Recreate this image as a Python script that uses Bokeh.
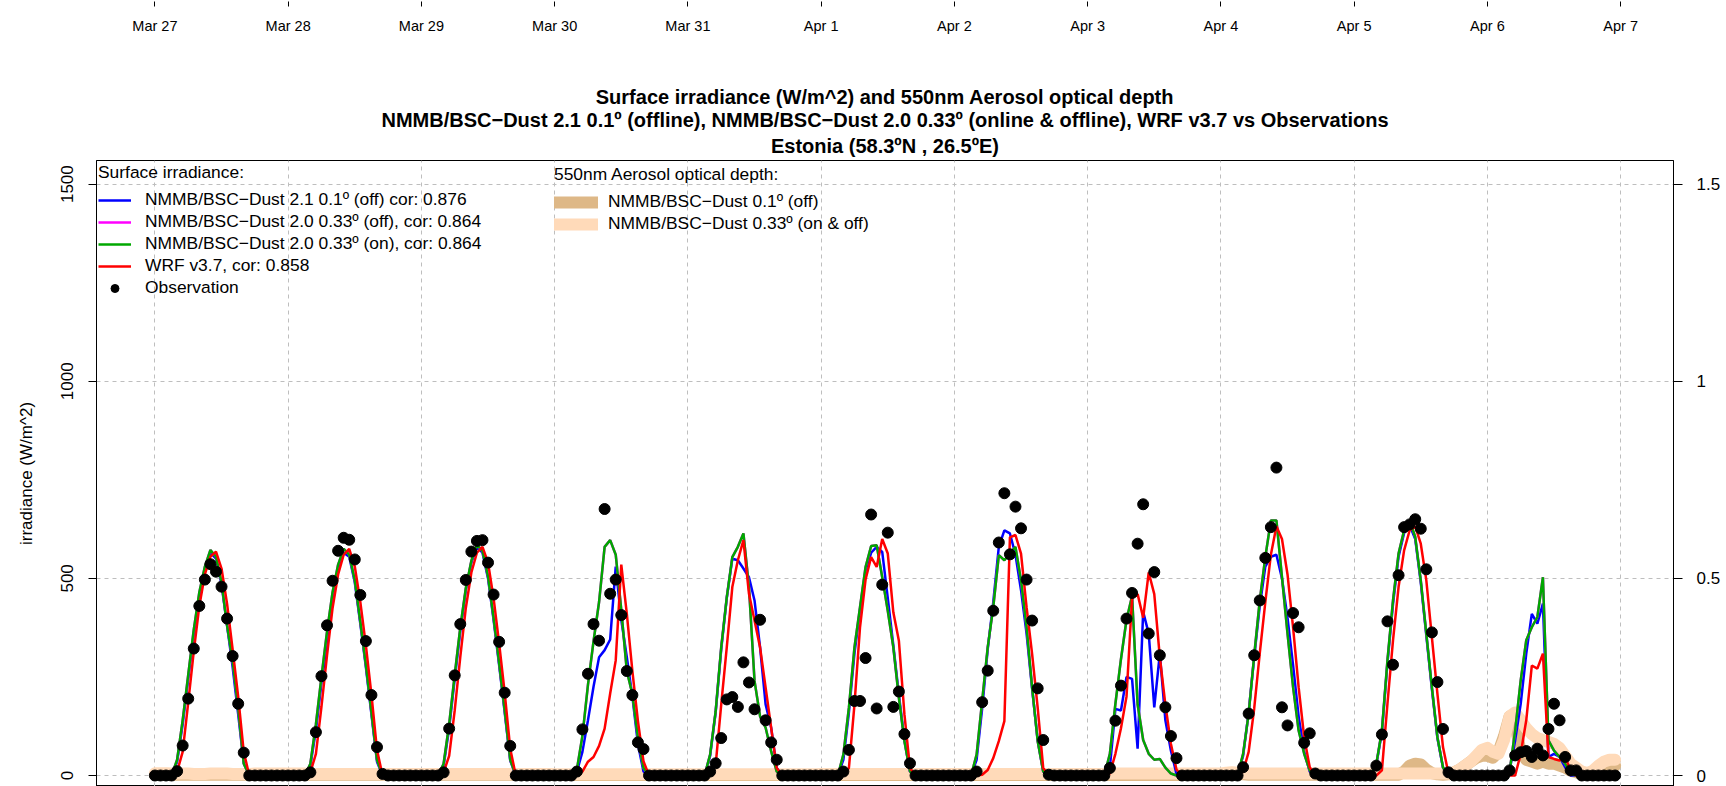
import numpy as np
import pandas as pd
from bokeh.plotting import figure
from bokeh.models import (ColumnDataSource, Range1d, LinearAxis, FixedTicker,
                          Legend, LegendItem, Title)
from bokeh.layouts import column
from bokeh.embed import file_html
from bokeh.resources import INLINE

FONT = "Liberation Sans"

# ---------------- data (hourly, UTC, starting 2016-03-27 00:00) ----------------
START = "2016-03-27 00:00"
DAY_DATES = ["2016-03-27", "2016-03-28", "2016-03-29", "2016-03-30", "2016-03-31", "2016-04-01",
             "2016-04-02", "2016-04-03", "2016-04-04", "2016-04-05", "2016-04-06", "2016-04-07"]
DAY_LABELS = ["Mar 27", "Mar 28", "Mar 29", "Mar 30", "Mar 31", "Apr 1",
              "Apr 2", "Apr 3", "Apr 4", "Apr 5", "Apr 6", "Apr 7"]

OBS = [
    0, 0, 0, 0, 11, 76, 195, 322, 430, 497, 536, 517, 479, 398, 303, 182, 58, 0, 0, 0, 0, 0, 0, 0,
    0, 0, 0, 0, 8, 110, 252, 381, 494, 570, 603, 598, 548, 458, 341, 204, 72, 4, 0, 0, 0, 0, 0, 0,
    0, 0, 0, 0, 8, 119, 254, 384, 496, 568, 595, 597, 540, 459, 339, 210, 75, 0, 0, 0, 0, 0, 0, 0,
    0, 0, 0, 0, 10, 117, 258, 384, 342, 676, 461, 497, 407, 265, 204, 84, 67, 0, 0, 0, 0, 0, 0, 0,
    0, 0, 0, 0, 10, 31, 95, 193, 199, 174, 287, 236, 168, 395, 140, 84, 40, 0, 0, 0, 0, 0, 0, 0,
    0, 0, 0, 0, 10, 65, 189, 189, 298, 662, 170, 484, 616, 174, 213, 105, 31, 0, 0, 0, 0, 0, 0, 0,
    0, 0, 0, 0, 10, 186, 266, 418, 591, 716, 561, 682, 627, 497, 393, 221, 90, 2, 0, 0, 0, 0, 0, 0,
    0, 0, 0, 0, 19, 139, 228, 398, 463, 588, 688, 360, 516, 305, 173, 100, 44, 0, 0, 0, 0, 0, 0, 0,
    0, 0, 0, 0, 21, 157, 305, 444, 552, 630, 781, 173, 127, 412, 376, 83, 107, 5, 0, 0, 0, 0, 0, 0,
    0, 0, 0, 0, 25, 104, 391, 281, 508, 630, 637, 650, 626, 523, 363, 237, 118, 8, 0, 0, 0, 0, 0, 0,
    0, 0, 0, 0, 13, 51, 59, 62, 47, 68, 51, 118, 182, 140, 47, 13, 13, 0, 0, 0, 0, 0, 0, 0,
]

NMMB21_01_OFF = [
    0, 0, 0, 0, 35, 130, 245, 360, 455, 525, 565, 550, 485, 380, 275, 155, 32, 0, 0, 0, 0, 0, 0, 0,
    0, 0, 0, 0, 25, 115, 235, 330, 440, 520, 565, 555, 490, 385, 275, 155, 35, 0, 0, 0, 0, 0, 0, 0,
    0, 0, 0, 0, 25, 120, 245, 365, 470, 540, 580, 565, 500, 395, 280, 160, 38, 0, 0, 0, 0, 0, 0, 0,
    0, 0, 0, 0, 10, 60, 140, 225, 300, 318, 345, 530, 395, 300, 200, 80, 10, 0, 0, 0, 0, 0, 0, 0,
    0, 0, 0, 0, 50, 160, 320, 450, 550, 546, 525, 503, 444, 325, 180, 121, 19, 0, 0, 0, 0, 0, 0, 0,
    0, 0, 0, 0, 40, 160, 310, 420, 520, 565, 580, 567, 450, 330, 205, 90, 10, 0, 0, 0, 0, 0, 0, 0,
    0, 0, 0, 0, 40, 170, 320, 440, 580, 622, 614, 560, 470, 360, 220, 90, 10, 0, 0, 0, 0, 0, 0, 0,
    0, 0, 0, 0, 21, 169, 165, 250, 245, 68, 415, 360, 173, 309, 140, 63, 4, 0, 0, 0, 0, 0, 0, 0,
    0, 0, 0, 0, 50, 160, 300, 430, 530, 555, 560, 500, 400, 280, 150, 60, 10, 0, 0, 0, 0, 0, 0, 0,
    0, 0, 0, 0, 28, 110, 285, 435, 555, 615, 635, 600, 490, 355, 220, 95, 20, 0, 0, 0, 0, 0, 0, 0,
    0, 0, 0, 0, 13, 89, 182, 309, 410, 385, 436, 47, 55, 47, 21, 0, 0, 0, 0, 0, 0, 0, 0, 0,
]

NMMB20_033_ON = [
    0, 0, 0, 0, 40, 140, 255, 370, 465, 530, 572, 555, 490, 380, 290, 170, 30, 0, 0, 0, 0, 0, 0, 0,
    0, 0, 0, 0, 30, 130, 250, 365, 465, 535, 575, 560, 495, 390, 280, 160, 40, 0, 0, 0, 0, 0, 0, 0,
    0, 0, 0, 0, 30, 130, 255, 375, 475, 545, 585, 570, 505, 400, 285, 165, 40, 0, 0, 0, 0, 0, 0, 0,
    0, 0, 0, 0, 15, 100, 230, 340, 440, 580, 597, 560, 420, 265, 206, 95, 19, 0, 0, 0, 0, 0, 0, 0,
    0, 0, 0, 0, 53, 163, 325, 452, 554, 580, 614, 478, 240, 150, 121, 61, 10, 0, 0, 0, 0, 0, 0, 0,
    0, 0, 0, 0, 53, 172, 325, 427, 529, 582, 584, 503, 418, 325, 197, 87, 10, 0, 0, 0, 0, 0, 0, 0,
    0, 0, 0, 0, 53, 189, 325, 427, 559, 546, 563, 580, 495, 376, 223, 87, 10, 0, 0, 0, 0, 0, 0, 0,
    0, 0, 0, 0, 55, 182, 295, 395, 455, 180, 90, 55, 40, 42, 20, 5, 0, 0, 0, 0, 0, 0, 0, 0,
    0, 0, 0, 0, 55, 157, 305, 444, 554, 647, 647, 503, 360, 224, 114, 55, 13, 0, 0, 0, 0, 0, 0, 0,
    0, 0, 0, 0, 30, 114, 292, 444, 563, 622, 647, 605, 495, 360, 224, 97, 21, 0, 0, 0, 0, 0, 0, 0,
    0, 0, 0, 0, 10, 114, 241, 343, 376, 402, 503, 89, 63, 47, 30, 4, 0, 0, 0, 0, 0, 0, 0, 0,
]

# offline 0.33 run: indistinguishable from the online run (hidden below the green line)
NMMB20_033_OFF = [
    0, 0, 0, 0, 40, 140, 255, 370, 465, 530, 572, 555, 490, 380, 290, 170, 30, 0, 0, 0, 0, 0, 0, 0,
    0, 0, 0, 0, 30, 130, 250, 365, 465, 535, 575, 560, 495, 390, 280, 160, 40, 0, 0, 0, 0, 0, 0, 0,
    0, 0, 0, 0, 30, 130, 255, 375, 475, 545, 585, 570, 505, 400, 285, 165, 40, 0, 0, 0, 0, 0, 0, 0,
    0, 0, 0, 0, 15, 100, 230, 340, 440, 580, 597, 560, 420, 265, 206, 95, 19, 0, 0, 0, 0, 0, 0, 0,
    0, 0, 0, 0, 53, 163, 325, 452, 554, 580, 614, 478, 240, 150, 121, 61, 10, 0, 0, 0, 0, 0, 0, 0,
    0, 0, 0, 0, 53, 172, 325, 427, 529, 582, 584, 503, 418, 325, 197, 87, 10, 0, 0, 0, 0, 0, 0, 0,
    0, 0, 0, 0, 53, 189, 325, 427, 559, 546, 563, 580, 495, 376, 223, 87, 10, 0, 0, 0, 0, 0, 0, 0,
    0, 0, 0, 0, 55, 182, 295, 395, 455, 180, 90, 55, 40, 42, 20, 5, 0, 0, 0, 0, 0, 0, 0, 0,
    0, 0, 0, 0, 55, 157, 305, 444, 554, 647, 647, 503, 360, 224, 114, 55, 13, 0, 0, 0, 0, 0, 0, 0,
    0, 0, 0, 0, 30, 114, 292, 444, 563, 622, 647, 605, 495, 360, 224, 97, 21, 0, 0, 0, 0, 0, 0, 0,
    0, 0, 0, 0, 10, 114, 241, 343, 376, 402, 503, 89, 63, 47, 30, 4, 0, 0, 0, 0, 0, 0, 0, 0,
]

WRF37 = [
    0, 0, 0, 0, 10, 60, 185, 315, 430, 510, 555, 568, 525, 435, 320, 200, 60, 0, 0, 0, 0, 0, 0, 0,
    0, 0, 0, 0, 8, 55, 175, 305, 425, 510, 560, 575, 530, 440, 330, 205, 65, 0, 0, 0, 0, 0, 0, 0,
    0, 0, 0, 0, 8, 50, 165, 300, 425, 515, 565, 580, 540, 450, 335, 210, 68, 0, 0, 0, 0, 0, 0, 0,
    0, 0, 0, 0, 0, 10, 35, 47, 75, 119, 208, 292, 535, 410, 265, 138, 36, 0, 0, 0, 0, 0, 0, 0,
    0, 0, 0, 0, 5, 27, 180, 325, 478, 546, 597, 461, 393, 325, 223, 121, 19, 0, 0, 0, 0, 0, 0, 0,
    0, 0, 0, 0, 0, 19, 180, 376, 497, 554, 529, 600, 563, 414, 342, 155, 19, 0, 0, 0, 0, 0, 0, 0,
    0, 0, 0, 0, 0, 2, 14, 44, 87, 138, 604, 610, 563, 427, 308, 172, 19, 0, 0, 0, 0, 0, 0, 0,
    0, 0, 0, 0, 5, 55, 120, 200, 450, 460, 400, 515, 460, 300, 180, 80, 15, 0, 0, 0, 0, 0, 0, 0,
    0, 0, 0, 0, 10, 60, 170, 310, 440, 560, 632, 600, 510, 376, 224, 97, 21, 0, 0, 0, 0, 0, 0, 0,
    0, 0, 0, 0, 0, 13, 182, 343, 478, 571, 622, 632, 588, 495, 351, 207, 72, 4, 0, 0, 0, 0, 0, 0,
    0, 0, 0, 0, 0, 0, 55, 140, 279, 271, 309, 47, 42, 38, 47, 13, 0, 0, 0, 0, 0, 0, 0, 0,
]

AOD_01_OFF = [
    .002, .002, .002, .002, .002, .002, .002, .002, .002, .002, .002, .002, .002, .002, .002, .002, .002, .002, .002, .002, .002, .002, .002, .002,
    .002, .002, .002, .002, .002, .002, .002, .002, .002, .002, .002, .002, .002, .002, .002, .002, .002, .002, .002, .002, .002, .002, .002, .002,
    .002, .002, .002, .002, .002, .002, .002, .002, .002, .002, .002, .002, .002, .002, .002, .002, .002, .002, .002, .002, .002, .002, .002, .002,
    .001, .001, .001, .001, .001, .001, .001, .001, .001, .001, .001, .001, .001, .001, .001, .001, .001, .001, .001, .001, .001, .001, .001, .001,
    .001, .001, .001, .001, .001, .001, .001, .001, .001, .001, .001, .001, .001, .001, .001, .001, .001, .001, .001, .001, .001, .001, .001, .001,
    .001, .001, .001, .001, .001, .001, .001, .001, .001, .001, .001, .001, .001, .001, .001, .001, .001, .001, .001, .001, .001, .001, .001, .001,
    .001, .001, .001, .001, .001, .001, .001, .001, .001, .001, .001, .001, .001, .001, .001, .001, .001, .001, .001, .001, .001, .001, .001, .001,
    .001, .001, .001, .001, .001, .001, .001, .001, .001, .001, .001, .001, .001, .001, .001, .001, .001, .001, .001, .001, .001, .001, .001, .001,
    .002, .002, .003, .003, .003, .002, .002, .002, .002, .002, .002, .002, .002, .002, .002, .002, .002, .002, .002, .002, .002, .002, .002, .002,
    .002, .002, .002, .002, .002, .002, .002, .002, .002, .010, .025, .030, .028, .015, .006, .003, .002, .003, .008, .015, .025, .035, .045, .050,
    .050, .045, .060, .100, .150, .130, .060, .040, .035, .030, .035, .030, .030, .025, .020, .012, .008, .005, .004, .006, .010, .015, .020, .025,
]

AOD_033_ONOFF = [
    .006, .006, .006, .005, .005, .005, .005, .004, .004, .004, .005, .005, .005, .005, .004, .004, .004, .004, .005, .005, .005, .005, .005, .005,
    .005, .005, .005, .005, .004, .004, .004, .004, .004, .004, .004, .004, .004, .004, .004, .004, .004, .004, .004, .004, .004, .004, .004, .004,
    .004, .004, .004, .004, .004, .004, .004, .004, .004, .004, .004, .004, .004, .004, .004, .004, .004, .004, .004, .004, .004, .004, .004, .004,
    .003, .003, .003, .003, .003, .003, .003, .003, .003, .003, .003, .003, .003, .003, .003, .003, .003, .003, .003, .003, .003, .003, .003, .003,
    .003, .003, .003, .003, .003, .003, .003, .003, .003, .003, .003, .003, .003, .003, .003, .003, .003, .003, .003, .003, .003, .003, .003, .003,
    .004, .004, .004, .004, .004, .004, .004, .004, .004, .004, .004, .004, .004, .004, .004, .004, .004, .004, .004, .004, .004, .004, .004, .004,
    .004, .004, .004, .004, .004, .004, .004, .004, .004, .004, .004, .004, .004, .004, .004, .004, .004, .004, .004, .004, .004, .004, .004, .004,
    .004, .004, .004, .004, .005, .005, .005, .005, .005, .005, .005, .005, .005, .005, .005, .005, .005, .005, .005, .005, .005, .005, .005, .005,
    .005, .007, .008, .007, .006, .005, .005, .005, .005, .005, .005, .005, .005, .005, .005, .005, .005, .005, .005, .005, .005, .005, .005, .005,
    .005, .005, .005, .005, .005, .005, .005, .005, .005, .005, .005, .005, .005, .005, .005, .005, .005, .005, .008, .015, .025, .035, .050, .065,
    .070, .060, .055, .090, .150, .160, .140, .120, .105, .095, .090, .085, .080, .070, .050, .030, .020, .010, .006, .012, .025, .035, .040, .040,
]

Y_TICKS = [0, 500, 1000, 1500]
AOD_TICKS = [0, 0.5, 1, 1.5]
AOD_TICK_LABELS = ["0", "0.5", "1", "1.5"]

TITLE_1 = "Surface irradiance (W/m^2) and 550nm Aerosol optical depth"
TITLE_2 = ("NMMB/BSC\u2212Dust 2.1 0.1\u00ba (offline), NMMB/BSC\u2212Dust 2.0 0.33\u00ba (online & offline), "
           "WRF v3.7 vs Observations")
TITLE_3 = "Estonia (58.3\u00baN , 26.5\u00baE)"
Y_LABEL = "irradiance (W/m^2)"
LEG1_TITLE = "Surface irradiance:"
LEG1_LABELS = ["NMMB/BSC\u2212Dust 2.1 0.1\u00ba (off) cor: 0.876",
               "NMMB/BSC\u2212Dust 2.0 0.33\u00ba (off), cor: 0.864",
               "NMMB/BSC\u2212Dust 2.0 0.33\u00ba (on), cor: 0.864",
               "WRF v3.7, cor: 0.858",
               "Observation"]
LEG2_TITLE = "550nm Aerosol optical depth:"
LEG2_LABELS = ["NMMB/BSC\u2212Dust 0.1\u00ba (off)", "NMMB/BSC\u2212Dust 0.33\u00ba (on & off)"]

# ---------------- build ----------------
times = pd.date_range(START, periods=len(OBS), freq="h")
t_ms = (times.astype("int64") // 10**6).astype(float).tolist()
day_ms = (pd.to_datetime(DAY_DATES).astype("int64") // 10**6).astype(float).tolist()

src = ColumnDataSource(dict(t=t_ms, obs=OBS, b=NMMB21_01_OFF, m=NMMB20_033_OFF,
                            g=NMMB20_033_ON, r=WRF37, a01=AOD_01_OFF, a033=AOD_033_ONOFF))

span = t_ms[-1] - t_ms[0]
xr = Range1d(t_ms[0] - 0.04 * span, t_ms[-1] + 0.04 * span)
y_top = Y_TICKS[-1] * 1.04
y_bot = -27.9          # lower part of the panel is cut off by the picture edge
FRAME_W, FRAME_H = 1577, 626
LEFT, RIGHT = 96, 53
TOP_H = 36

# --- strip with the date axis of the panel above (cut off in the picture) ---
top = figure(frame_width=FRAME_W, height=TOP_H, min_border_left=LEFT, min_border_right=RIGHT,
             min_border_top=0, min_border_bottom=0, x_range=xr, y_range=Range1d(0, 1),
             toolbar_location=None, output_backend="svg", y_axis_location=None,
             title=None, outline_line_color=None)
top.xgrid.visible = False
top.ygrid.visible = False
ta = top.xaxis[0]
ta.ticker = FixedTicker(ticks=day_ms)
ta.major_label_overrides = dict(zip(day_ms, DAY_LABELS))
ta.axis_line_color = None
ta.major_tick_out = 5
ta.major_tick_in = 0
ta.major_tick_line_color = "black"
ta.minor_tick_line_color = None
ta.major_label_standoff = 11
ta.major_label_text_font = FONT
ta.major_label_text_font_size = "14.5px"
ta.major_label_text_color = "black"

# --- main panel ---
p = figure(frame_width=FRAME_W, frame_height=FRAME_H, min_border_left=LEFT, min_border_right=RIGHT,
           min_border_top=160 - TOP_H, min_border_bottom=0, x_range=xr, y_range=Range1d(y_bot, y_top),
           toolbar_location=None, output_backend="svg", x_axis_location=None,
           title=None, outline_line_color="black")
p.extra_y_ranges = {"aod": Range1d(y_bot / 1000.0, y_top / 1000.0)}

p.xgrid.ticker = FixedTicker(ticks=day_ms)
p.ygrid.ticker = FixedTicker(ticks=Y_TICKS)
for g in (p.xgrid[0], p.ygrid[0]):
    g.grid_line_color = "#BEBEBE"
    g.grid_line_dash = "4 4"
    g.grid_line_width = 1

ya = p.yaxis[0]
ya.ticker = FixedTicker(ticks=Y_TICKS)
ya.major_label_orientation = "vertical"
ya.major_tick_out = 8
ya.major_tick_in = 0
ya.minor_tick_line_color = None
ya.major_label_standoff = 15
ya.major_label_text_font = FONT
ya.major_label_text_font_size = "17px"
ya.major_label_text_color = "black"
ya.axis_line_color = "black"
ya.major_tick_line_color = "black"
ya.axis_label = Y_LABEL
ya.axis_label_text_font = FONT
ya.axis_label_text_font_size = "17px"
ya.axis_label_text_font_style = "normal"
ya.axis_label_text_color = "black"
ya.axis_label_standoff = 23

ra = LinearAxis(y_range_name="aod", ticker=FixedTicker(ticks=AOD_TICKS))
ra.major_label_overrides = dict(zip([float(v) for v in AOD_TICKS], AOD_TICK_LABELS))
ra.major_tick_out = 9
ra.major_tick_in = 0
ra.minor_tick_line_color = None
ra.major_label_standoff = 14
ra.major_label_text_font = FONT
ra.major_label_text_font_size = "17px"
ra.major_label_text_color = "black"
ra.axis_line_color = "black"
ra.major_tick_line_color = "black"
p.add_layout(ra, "right")

# titles (added from the plot outward)
for txt, so in ((TITLE_3, 7.5), (TITLE_2, -4), (TITLE_1, 2)):
    p.add_layout(Title(text=txt, align="center", text_font=FONT, text_font_size="20px",
                       text_font_style="bold", text_color="black", standoff=so), "above")

# AOD bands
r_a01 = p.line("t", "a01", source=src, y_range_name="aod", line_color="#DEB887",
               line_width=12, line_cap="round", line_join="round")
r_a033 = p.line("t", "a033", source=src, y_range_name="aod", line_color="#FFDAB9",
                line_width=12, line_cap="round", line_join="round")
# irradiance
r_b = p.line("t", "b", source=src, line_color="#0000FF", line_width=2.5)
r_m = p.line("t", "m", source=src, line_color="#FF00FF", line_width=2.5)
r_g = p.line("t", "g", source=src, line_color="#00A800", line_width=2.5)
r_r = p.line("t", "r", source=src, line_color="#FF0000", line_width=2.5)
r_o = p.scatter("t", "obs", source=src, size=11, color="black")


def style_legend(lg):
    lg.title_text_font = FONT
    lg.title_text_font_size = "17.4px"
    lg.title_text_font_style = "normal"
    lg.title_text_color = "black"
    lg.title_standoff = 6
    lg.label_text_font = FONT
    lg.label_text_font_size = "17.4px"
    lg.label_text_color = "black"
    lg.border_line_color = None
    lg.background_fill_alpha = 0
    lg.padding = 2
    lg.margin = 0
    lg.spacing = 1
    lg.glyph_width = 33
    lg.glyph_height = 20
    lg.label_height = 20
    lg.label_standoff = 14


leg1 = Legend(items=[LegendItem(label=lab, renderers=[r]) for lab, r in
                     zip(LEG1_LABELS, [r_b, r_m, r_g, r_r, r_o])],
              title=LEG1_TITLE, location=(2, 488))
style_legend(leg1)
p.add_layout(leg1)

leg2 = Legend(items=[LegendItem(label=lab, renderers=[r]) for lab, r in
                     zip(LEG2_LABELS, [r_a01, r_a033])],
              title=LEG2_TITLE, location=(458, 552))
style_legend(leg2)
leg2.glyph_width = 44
leg2.label_standoff = 10
p.add_layout(leg2)

layout = column(top, p)
open("out.html", "w").write(file_html(layout, INLINE))
